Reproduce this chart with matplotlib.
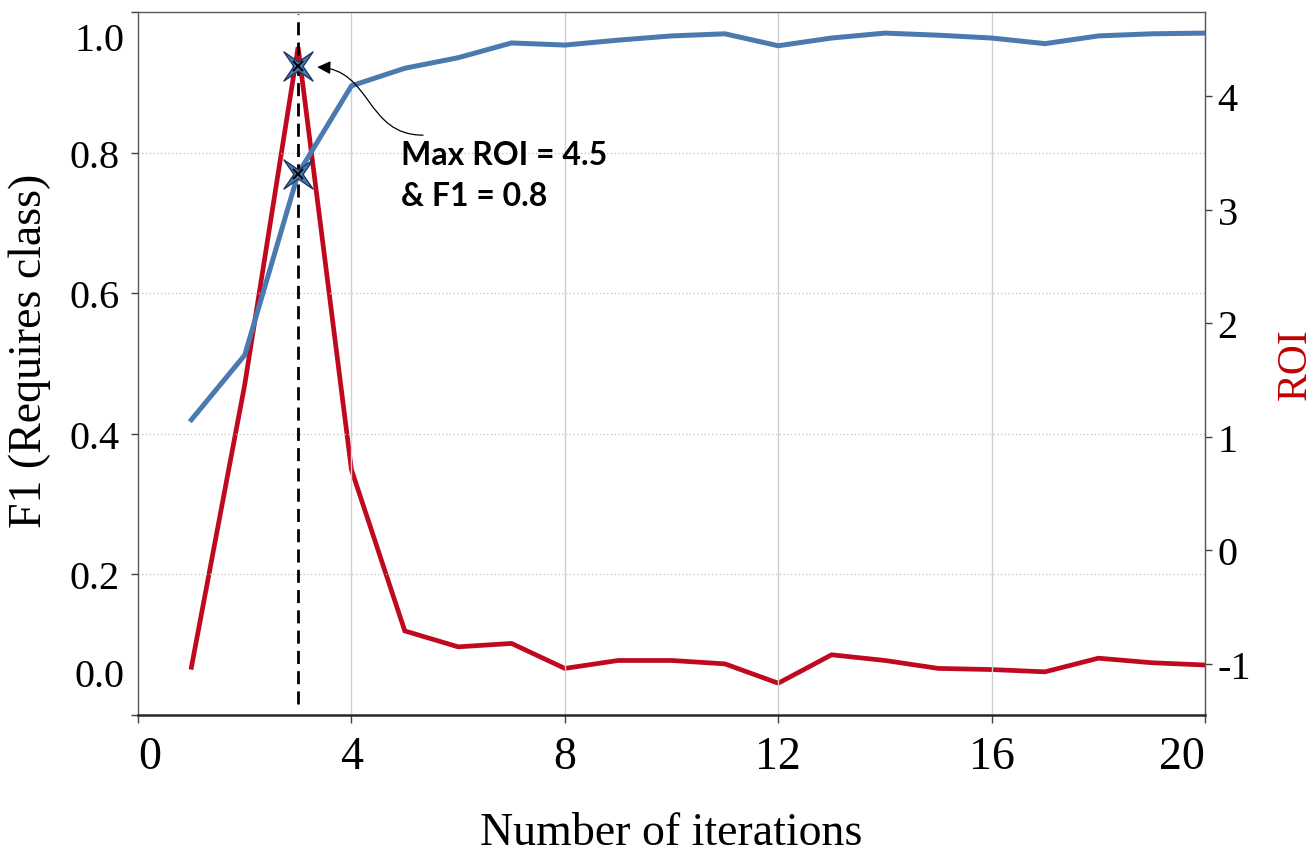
import numpy as np
import matplotlib
matplotlib.use("Agg")
from matplotlib import pyplot as plt
from matplotlib.path import Path
from matplotlib.patches import FancyArrowPatch
import matplotlib.transforms as mtransforms

iterations = list(range(1, 21))
f1 = [0.420, 0.512, 0.770, 0.895, 0.920, 0.935, 0.956, 0.953, 0.960, 0.966,
      0.969, 0.952, 0.963, 0.970, 0.967, 0.963, 0.955, 0.966, 0.969, 0.970]
roi = [-1.03, 1.46, 4.43, 0.71, -0.71, -0.85, -0.82, -1.04, -0.97, -0.97,
       -1.00, -1.17, -0.92, -0.97, -1.04, -1.05, -1.07, -0.95, -0.99, -1.01]

best_iter = 3
star_x = [3, 3]
star_f1 = [0.923, 0.770]

x_ticks = [0, 4, 8, 12, 16, 20]
f1_ticks = [0.0, 0.2, 0.4, 0.6, 0.8, 1.0]
roi_ticks = [-1, 0, 1, 2, 3, 4]
note = "Max ROI = 4.5\n& F1 = 0.8"

blue = "#4A7AAF"
red = "#C0081E"
serif = ["Liberation Serif", "DejaVu Serif"]

fig = plt.figure(figsize=(13.16, 8.62), dpi=100)
ax = fig.add_axes([0.1049, 0.1694, 0.8108, 0.8155])
ax2 = ax.twinx()
ax.set_zorder(ax2.get_zorder() + 1)
ax.patch.set_visible(False)

ax2.plot(iterations, roi, color=red, lw=3.4, solid_joinstyle="miter", zorder=3)
ax.plot(iterations, f1, color=blue, lw=3.6, zorder=3)

ax.set_xlim(0, 20)
ax.set_ylim(0, 1.0)
ax2.set_ylim(-1.45, 4.74)

# grid
for y in f1_ticks[1:-1]:
    ax.axhline(y, color="#bfbfbf", lw=0.9, ls=(0, (1, 2)), zorder=1)
for x in x_ticks[1:-1]:
    ax.axvline(x, color="#d0d0d0", lw=1.0, zorder=1)

ax.vlines(best_iter, 0.016, 0.997, color="black", lw=2.0,
          linestyles=(0, (4.7, 2.6)), zorder=4)

# 4 point stars
star = []
for k in range(8):
    a = np.pi / 4 + k * np.pi / 4
    r = 1.0 if k % 2 == 0 else 0.22
    star.append((r * np.cos(a), r * np.sin(a)))
star.append(star[0])
star_path = Path(star, [Path.MOVETO] + [Path.LINETO] * 7 + [Path.CLOSEPOLY])
ax.plot(star_x, star_f1, ls="none", marker=star_path, ms=21,
        mfc=blue, mec="#1F3864", mew=1.0, zorder=5)
ax.plot(star_x, star_f1, ls="none", marker="x", ms=7, mec="black",
        mew=1.4, zorder=6)

# curved arrow
trans = fig.dpi_scale_trans + mtransforms.ScaledTranslation(
    star_x[0], star_f1[0], ax.transData)
verts = [(1.25, -0.69), (0.67, -0.69), (0.74, -0.03), (0.19, -0.01)]
arrow = FancyArrowPatch(path=Path(verts, [Path.MOVETO, Path.CURVE4, Path.CURVE4, Path.CURVE4]),
                        arrowstyle="-|>,head_length=0.45,head_width=0.22",
                        mutation_scale=18, color="black", lw=0.9,
                        transform=trans, clip_on=False, zorder=6)
ax.add_patch(arrow)
ax.text(0.2465, 0.818, note, transform=ax.transAxes, fontsize=23,
        fontweight="bold", family=["Lato", "DejaVu Sans"], va="top",
        ha="left", linespacing=1.5, zorder=6)

# axes styling
for s in ["left", "top", "right"]:
    ax.spines[s].set_color("#595959")
    ax.spines[s].set_linewidth(1.0)
ax.spines["bottom"].set_color("#262626")
ax.spines["bottom"].set_linewidth(1.8)
for s in ax2.spines.values():
    s.set_visible(False)
ax2.spines["right"].set_visible(True)
ax2.spines["right"].set_color("#595959")

ax.set_xticks(x_ticks)
ax.set_xticklabels([str(v) for v in x_ticks], family=serif, fontsize=33)
xl = ax.get_xticklabels()
xl[0].set_ha("left")
xl[-1].set_ha("right")
ax.set_yticks(f1_ticks)
ax.set_yticklabels(["" if v in (0.0, 1.0) else f"{v:.1f}" for v in f1_ticks],
                   family=serif, fontsize=29)
for v, yy in ((0.0, 0.055), (1.0, 0.96)):
    ax.text(-0.013, yy, f"{v:.1f}", transform=ax.transAxes, ha="right",
            va="center", family=serif, fontsize=29)
ax.tick_params(axis="x", length=6, width=1.0, color="#404040", pad=9)
ax.tick_params(axis="y", length=5, width=1.0, color="#404040", pad=8)

ax2.set_yticks(roi_ticks)
ax2.set_yticklabels([str(v) for v in roi_ticks], family=serif, fontsize=29)
ax2.tick_params(axis="y", length=5, width=1.0, color="#404040", pad=4)

ax.set_xlabel("Number of iterations", family=serif, fontsize=33, labelpad=24)
ax.set_ylabel("F1 (Requires class)", family=serif, fontsize=33)
ax.yaxis.set_label_coords(-0.082, 0.52)
ax2.set_ylabel("ROI", family=serif, fontsize=30, color="#C00000", labelpad=18)

fig.savefig("out.png", dpi=100)
